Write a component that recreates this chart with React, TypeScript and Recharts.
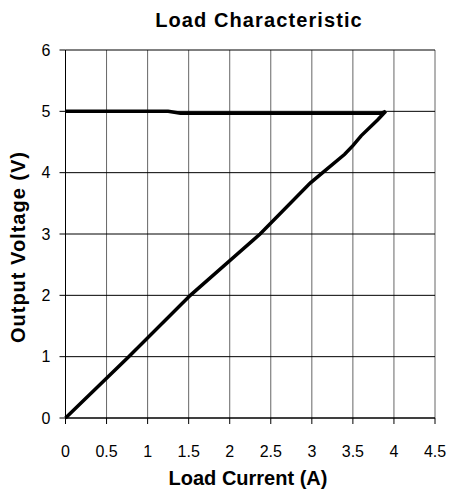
import { LineChart, Line, XAxis, YAxis, CartesianGrid, Label } from 'recharts';

// load line: from no load along ~5 V out to the current limit, then fold back to 0
const currentA = [0, 0.5, 1.0, 1.25, 1.4, 2.0, 2.5, 3.0, 3.5, 3.85, 3.9, 3.8, 3.6, 3.5, 3.4, 3.15, 2.98, 2.37, 1.52, 0.77, 0];
const voltageV = [5.0, 5.0, 5.0, 5.0, 4.97, 4.97, 4.97, 4.97, 4.97, 4.97, 5.0, 4.86, 4.6, 4.44, 4.3, 4.02, 3.83, 3.0, 2.0, 1.0, 0];

const xTicks = [0, 0.5, 1, 1.5, 2, 2.5, 3, 3.5, 4, 4.5];
const yTicks = [0, 1, 2, 3, 4, 5, 6];

const data = currentA.map((c, i) => ({ current: c, voltage: voltageV[i] }));

const FONT = '"Liberation Sans", Arial, sans-serif';

export default function App() {
  return (
    <div style={{ position: 'absolute', left: 0, top: 0, width: 450, height: 490, background: '#fff', fontFamily: FONT }}>
      <div
        style={{
          position: 'absolute',
          top: 9,
          left: 0,
          width: 518,
          textAlign: 'center',
          fontSize: 20,
          fontWeight: 'bold',
          letterSpacing: 1.1,
          color: '#000',
        }}
      >
        Load Characteristic
      </div>
      <LineChart width={450} height={490} data={data} margin={{ top: 50, right: 15, left: 0, bottom: 0 }}>
        <CartesianGrid horizontal={false} stroke="#666" strokeWidth={1} />
        <CartesianGrid vertical={false} stroke="#000" strokeWidth={1} />
        <XAxis
          type="number"
          dataKey="current"
          domain={[0, 4.5]}
          ticks={xTicks}
          height={72}
          stroke="#000"
          tickSize={6}
          tickMargin={22}
          tick={{ fontSize: 16, fill: '#000', fontFamily: FONT }}
          interval={0}
        >
          <Label
            content={() => (
              <text x={248} y={485} textAnchor="middle" fontSize={20} fontWeight="bold" fontFamily={FONT} fill="#000">
                Load Current (A)
              </text>
            )}
          />
        </XAxis>
        <YAxis
          type="number"
          domain={[0, 6]}
          ticks={yTicks}
          width={65.5}
          stroke="#000"
          tickSize={6}
          tickMargin={9}
          tick={{ fontSize: 16, fill: '#000', fontFamily: FONT }}
          interval={0}
        >
          <Label
            content={() => (
              <text
                x={25}
                y={247}
                transform="rotate(-90 25 247)"
                textAnchor="middle"
                fontSize={20}
                fontWeight="bold"
                fontFamily={FONT}
                fill="#000"
                letterSpacing={1}
              >
                Output Voltage (V)
              </text>
            )}
          />
        </YAxis>
        <Line
          type="linear"
          dataKey="voltage"
          stroke="#000"
          strokeWidth={3.5}
          dot={false}
          isAnimationActive={false}
        />
      </LineChart>
    </div>
  );
}
